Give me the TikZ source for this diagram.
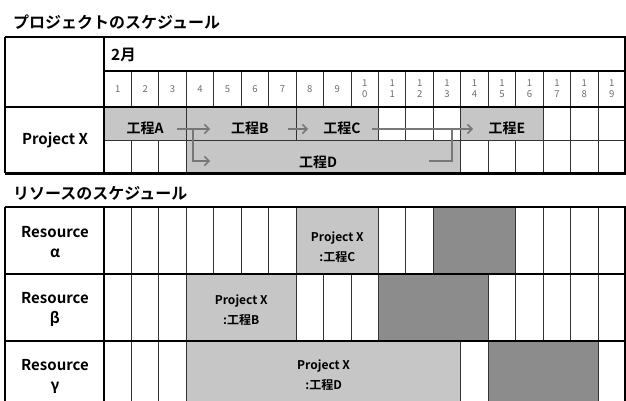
\documentclass[tikz,border=0pt]{standalone}
\usepackage{fontspec}
\setmainfont{Noto Sans CJK JP}[BoldFont={Noto Sans CJK JP Bold}]
\usetikzlibrary{arrows.meta}
\definecolor{barlight}{HTML}{C6C6C6}
\definecolor{bardark}{HTML}{8C8C8C}
\definecolor{arrowgray}{HTML}{777777}
\definecolor{numgray}{HTML}{6E6E6E}
\tikzset{
  thinline/.style={draw=black!80, line width=1pt},
  thickline/.style={draw=black, line width=2pt},
  outline/.style={draw=black, line width=2.4pt},
  titletext/.style={font=\bfseries\fontsize{16}{17}\selectfont, anchor=west, inner sep=0pt},
  steptext/.style={font=\bfseries\fontsize{14}{15}\selectfont, inner sep=0pt},
  rowlabel/.style={font=\bfseries\fontsize{15}{20}\selectfont, inner sep=0pt, align=center},
  blocktext/.style={font=\bfseries\fontsize{12}{20}\selectfont, inner sep=0pt, align=center},
  daynum/.style={font=\fontsize{9.5}{12}\selectfont, text=numgray, inner sep=0pt, align=center},
  flow/.style={draw=arrowgray, line width=1.5pt, -{Straight Barb[length=4.5pt,width=9pt,line width=1.5pt]}},
  flowline/.style={draw=arrowgray, line width=1.5pt}
}
\def\cL{104}
\def\cw{27.45}
\begin{document}
\begin{tikzpicture}[x=1pt,y=-1pt]
\useasboundingbox (0,0) rectangle (626,401);
\clip (0,0) rectangle (626,401);
\fill[white] (0,0) rectangle (626,401);

% ---------- titles
\node[titletext] (title1) at (13,22) {プロジェクトのスケジュール};
\node[titletext] (title2) at (13,193) {リソースのスケジュール};

% ---------- project table fills
\fill[barlight] ({\cL},107) rectangle ({\cL+\cw*3},140);
\fill[barlight] ({\cL+\cw*3},107) rectangle ({\cL+\cw*7},140);
\fill[barlight] ({\cL+\cw*7},107) rectangle ({\cL+\cw*10},140);
\fill[barlight] ({\cL+\cw*13},107) rectangle ({\cL+\cw*16},140);
\fill[barlight] ({\cL+\cw*3},140) rectangle ({\cL+\cw*13},173);

% project table lines
\foreach \k in {1,...,18} \draw[thinline] ({\cL+\cw*\k},71) -- ({\cL+\cw*\k},107);
\foreach \k in {3,7,10,11,12,13,16,17,18} \draw[thinline] ({\cL+\cw*\k},107) -- ({\cL+\cw*\k},140);
\foreach \k in {1,2,3,13,14,15,16,17,18} \draw[thinline] ({\cL+\cw*\k},140) -- ({\cL+\cw*\k},173);
\draw[thinline] ({\cL},140) -- (626,140);
\draw[draw=black, line width=1.4pt] ({\cL},71) -- (626,71);
\draw[thickline] (5,107) -- (626,107);
\draw[thickline] ({\cL},37) -- ({\cL},173);
\draw[outline] (5,37) -- (626,37);
\draw[outline] (5,37) -- (5,173);
\draw[draw=black, line width=3pt] (5,173) -- (626,173);
\draw[outline] (625,37) -- (625,173);

% header texts
\node[font=\bfseries\fontsize{15.5}{17}\selectfont, anchor=west, inner sep=0pt] (month) at (111,55) {2月};
\foreach \k in {1,...,9}
  \node[daynum] (d\k) at ({\cL+\cw*(\k-0.5)},89) {\k};
\foreach \k [count=\j from 10] in {0,...,9}
  \node[daynum] (d\j) at ({\cL+\cw*(\j-0.5)},89) {1\\[-1pt]\k};

\node[rowlabel] (px) at (55,140) {Project X};
\node[steptext] (tA) at (145,128) {工程A};
\node[steptext] (tB) at (250,128) {工程B};
\node[steptext] (tC) at (342,128) {工程C};
\node[steptext] (tD) at (318,162) {工程D};
\node[steptext] (tE) at (507,128) {工程E};

% flow arrows
\coordinate (a0) at (177,129);
\coordinate (a1) at (210,129);
\coordinate (ab) at (193,129);
\coordinate (a2) at (210,161);
\coordinate (b0) at (288,129);
\coordinate (b1) at (308,129);
\coordinate (c0) at (372,129);
\coordinate (c1) at (473,129);
\coordinate (d0) at (429,161);
\coordinate (dj) at (452,129);
\draw[flow] (a0) -- (a1);
\draw[flow] (ab) |- (a2);
\draw[flow] (b0) -- (b1);
\draw[flow] (c0) -- (c1);
\draw[flowline] (d0) -| (dj);

% ---------- resource table fills
\fill[barlight] ({\cL+\cw*7},207) rectangle ({\cL+\cw*10},274);
\fill[bardark]  ({\cL+\cw*12},207) rectangle ({\cL+\cw*15},274);
\fill[barlight] ({\cL+\cw*3},274) rectangle ({\cL+\cw*7},341);
\fill[bardark]  ({\cL+\cw*10},274) rectangle ({\cL+\cw*14},341);
\fill[barlight] ({\cL+\cw*3},341) rectangle ({\cL+\cw*13},410);
\fill[bardark]  ({\cL+\cw*14},341) rectangle ({\cL+\cw*18},410);

\foreach \k in {1,...,7,10,11,12,15,16,17,18} \draw[thinline] ({\cL+\cw*\k},207) -- ({\cL+\cw*\k},274);
\foreach \k in {1,2,3,7,8,9,10,14,15,16,17,18} \draw[thinline] ({\cL+\cw*\k},274) -- ({\cL+\cw*\k},341);
\foreach \k in {1,2,3,13,14,18} \draw[thinline] ({\cL+\cw*\k},341) -- ({\cL+\cw*\k},410);
\draw[thickline] (5,274) -- (626,274);
\draw[thickline] (5,341) -- (626,341);
\draw[thickline] ({\cL},207) -- ({\cL},410);
\draw[outline] (5,207) -- (626,207);
\draw[outline] (5,207) -- (5,410);
\draw[outline] (625,207) -- (625,410);

\node[rowlabel] (ra) at (55,242) {Resource\\α};
\node[rowlabel] (rb) at (55,309) {Resource\\β};
\node[rowlabel] (rg) at (55,376) {Resource\\γ};

\node[blocktext] (bC) at ({\cL+\cw*8.5},247) {Project X\\:工程C};
\node[blocktext] (bB) at ({\cL+\cw*5},310) {Project X\\:工程B};
\node[blocktext] (bD) at ({\cL+\cw*8},375) {Project X\\:工程D};
\end{tikzpicture}
\end{document}
